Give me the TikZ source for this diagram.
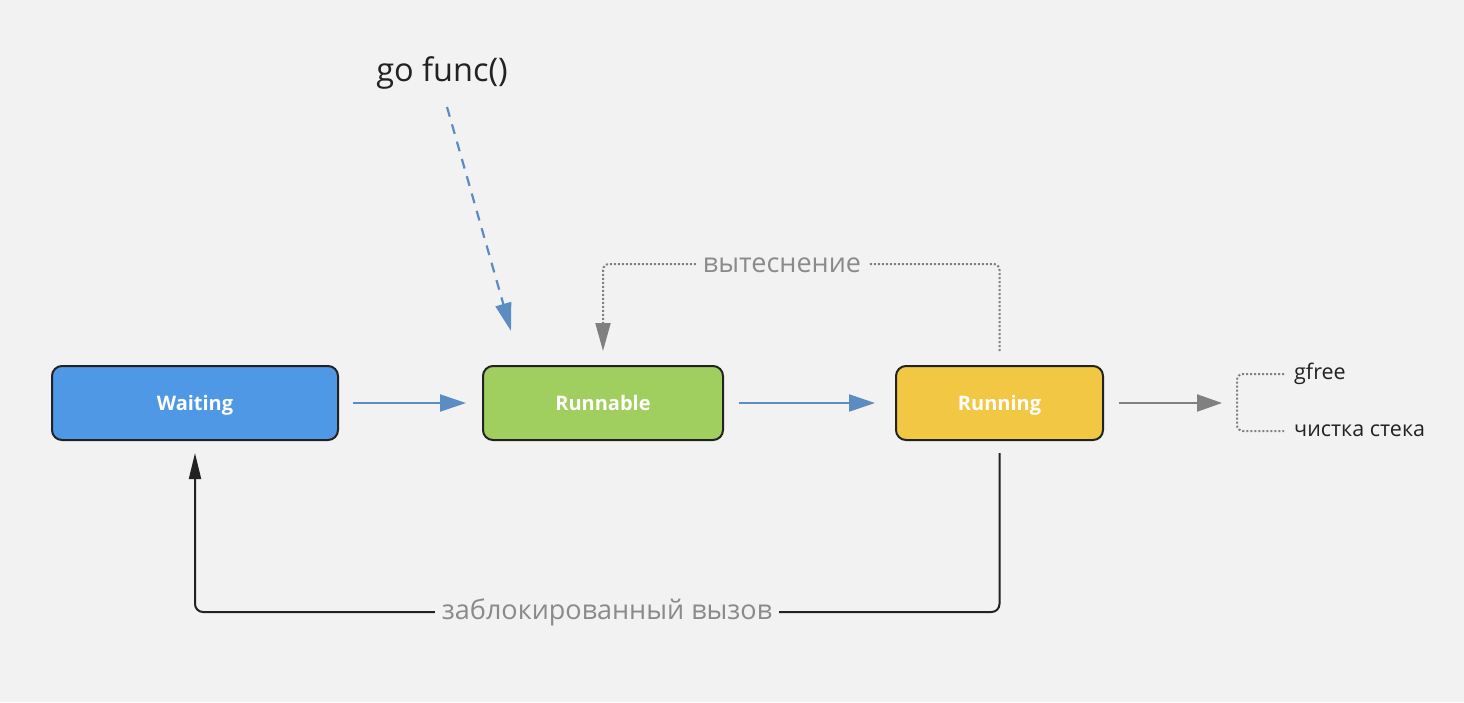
\documentclass[tikz,border=0pt]{standalone}
\usepackage{fontspec}
\setmainfont{Open Sans}
\usetikzlibrary{arrows.meta,positioning}
\definecolor{bg}{HTML}{F2F2F2}
\definecolor{cwait}{HTML}{4F98E5}
\definecolor{crunnable}{HTML}{A0CF5F}
\definecolor{crunning}{HTML}{F2C744}
\definecolor{cblue}{HTML}{5B8DC2}
\definecolor{cgray}{HTML}{808080}
\definecolor{clabel}{HTML}{8A8A8A}
\definecolor{cdark}{HTML}{222222}
\tikzset{
  state/.style={draw=cdark, line width=2pt, rounded corners=10pt, minimum height=74pt,
    text=white, font=\bfseries\fontsize{20}{24}\selectfont, inner sep=0pt,
    text height=16pt, text depth=1pt},
  bluearrow/.style={draw=cblue, line width=2.2pt, -{Triangle[length=26pt,width=17pt]}},
  grayarrow/.style={draw=cgray, line width=2.2pt, -{Triangle[length=25pt,width=17pt]}},
  lbl/.style={text=clabel, font=\fontsize{27}{32}\selectfont, fill=bg, inner xsep=7pt, inner ysep=2pt},
  sidelbl/.style={text=cdark, font=\fontsize{21.5}{25}\selectfont, anchor=west, inner sep=0pt},
}
\begin{document}
\begin{tikzpicture}[x=1pt,y=-1pt]
\fill[bg] (0,0) rectangle (1464,702);
\useasboundingbox (0,0) rectangle (1464,702);
\node[state, fill=cwait, minimum width=286pt] (wait) at (195,403) {Waiting};
\node[state, fill=crunnable, minimum width=240pt] (runnable) at (603,403) {Runnable};
\node[state, fill=crunning, minimum width=207pt] (running) at (999.5,403) {Running};
\node[text=cdark, font=\fontsize{32.5}{38}\selectfont] (go) at (442,73) {go func()};
\coordinate (gostart) at (447,107);
\coordinate (goend) at (511,331);
\draw[bluearrow, dashed, dash pattern=on 10pt off 8pt, -{Triangle[length=28pt,width=16pt]}] (gostart) -- (goend);
\draw[bluearrow, shorten <=14pt, shorten >=16pt] (wait.east) -- (runnable.west);
\draw[bluearrow, shorten <=15pt, shorten >=20pt] (runnable.east) -- (running.west);
\coordinate (free) at (1222,403);
\draw[grayarrow, shorten <=15pt] (running.east) -- (free);
% preemption
\draw[draw=cgray, line width=2pt, dotted, rounded corners=6pt, shorten <=14pt, shorten >=14pt,
  -{Triangle[length=28pt,width=15pt]}]
  (running.north) -- ++(0,-101) -| (runnable.north);
\node[lbl] (pre) at (782,265) {вытеснение};
% blocked
\draw[draw=cdark, line width=2pt, rounded corners=8pt, shorten <=12pt, shorten >=12pt,
  -{Triangle[length=26pt,width=12pt]}]
  (running.south) -- ++(0,171) -| (wait.south);
\node[lbl] (blk) at (607,612) {заблокированный вызов};
% gfree bracket
\node[sidelbl] (gfree) at (1294,374) {gfree};
\node[sidelbl] (stack) at (1294,431) {чистка стека};
\draw[draw=cgray, line width=2pt, dotted, rounded corners=6pt]
  ([xshift=-10pt]gfree.west) -- (1237,374) -- (1237,431) -- ([xshift=-10pt]stack.west);
\end{tikzpicture}
\end{document}
